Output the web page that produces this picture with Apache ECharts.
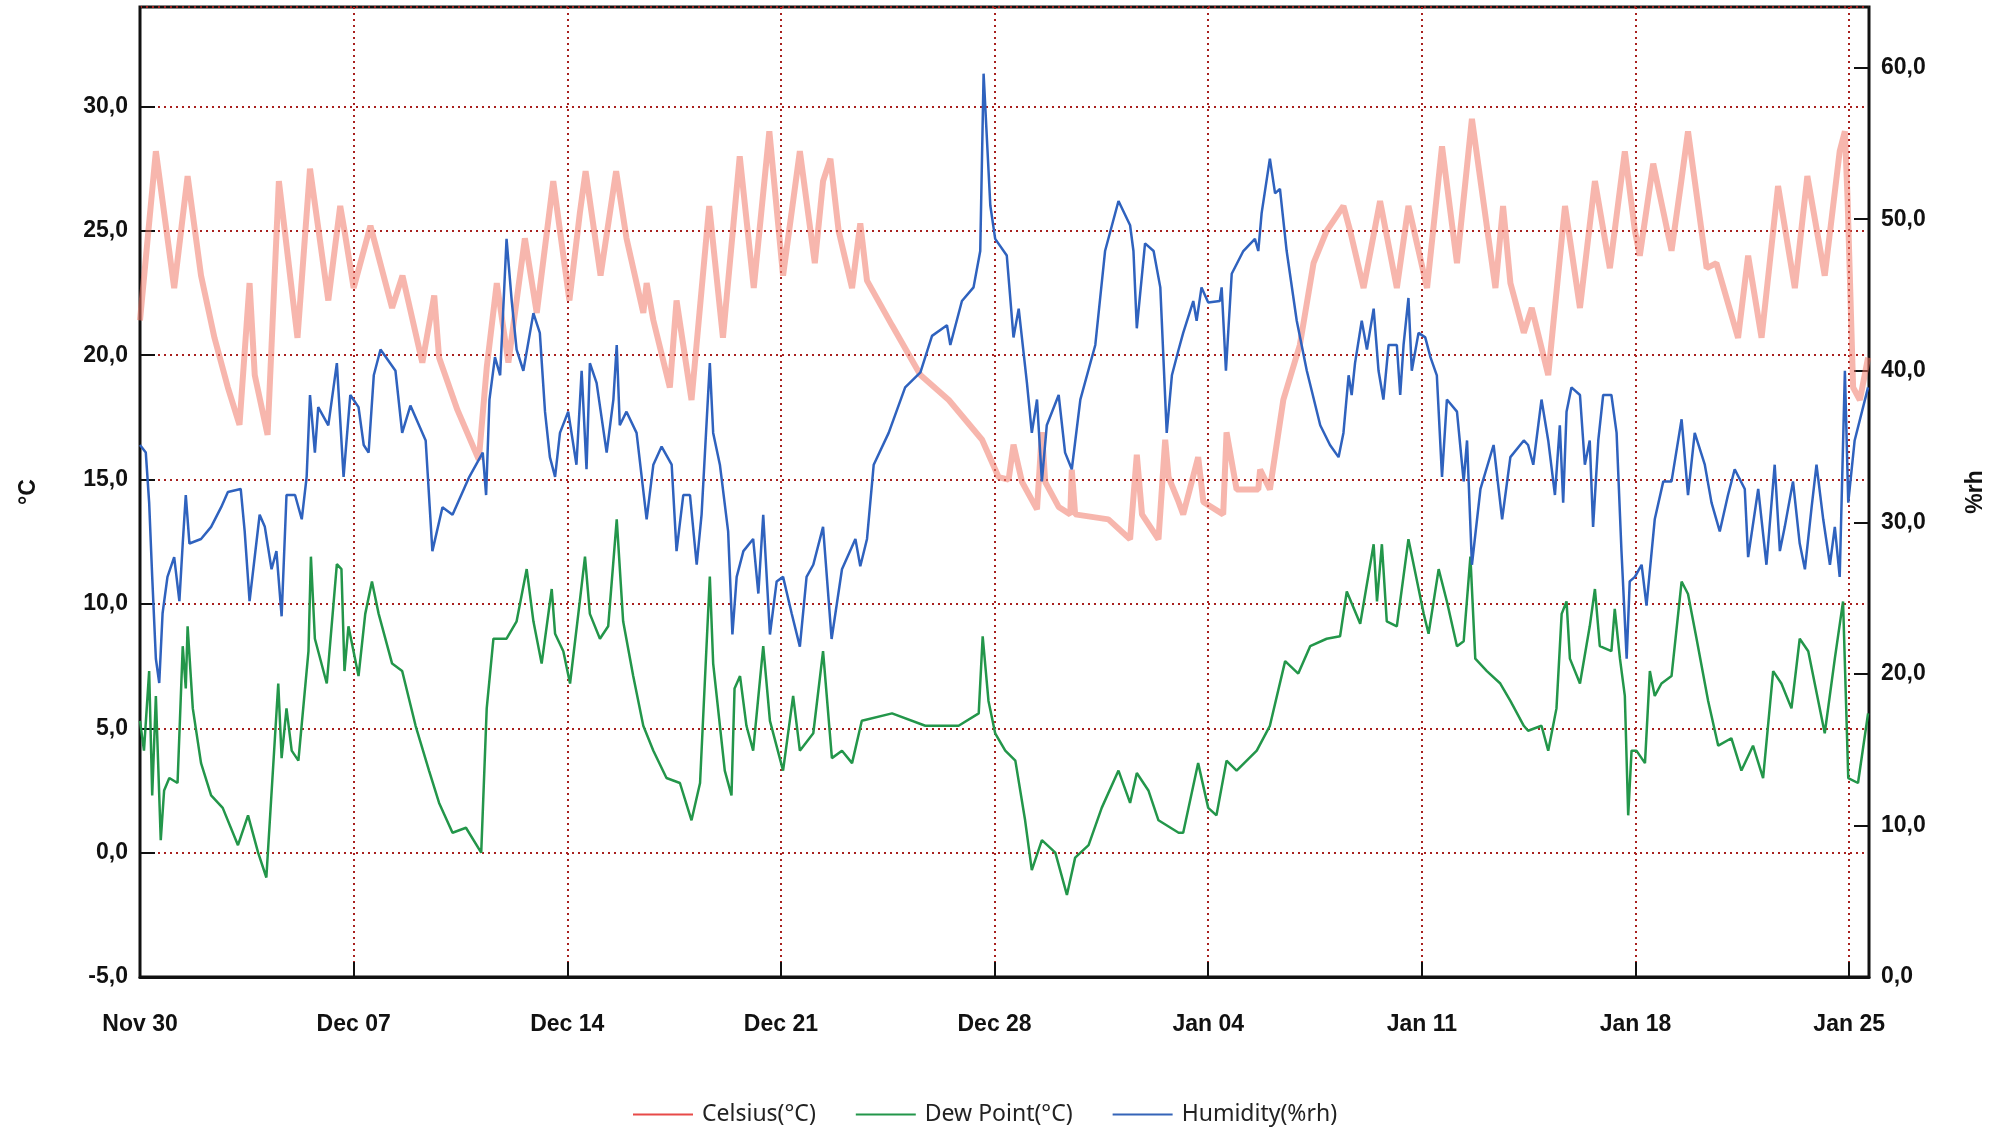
<!DOCTYPE html>
<html>
<head>
<meta charset="utf-8">
<title>Celsius / Dew Point / Humidity</title>
<script src="https://cdn.jsdelivr.net/npm/echarts@6/dist/echarts.min.js"></script>
<style>
  html, body { margin: 0; padding: 0; background: #fff; }
  #chart { width: 2011px; height: 1133px; }
</style>
</head>
<body>
<div id="chart"></div>
<script>
// x = days since Nov 30 00:00
const tickLabels = ['Nov 30', 'Dec 07', 'Dec 14', 'Dec 21', 'Dec 28', 'Jan 04', 'Jan 11', 'Jan 18', 'Jan 25'];

// Celsius(°C)  [day, value]
const celsius = [
  [0,21.4],[0.52,28.2],[1.12,22.7],[1.56,27.2],[2.0,23.2],[2.44,20.7],[2.88,18.7],[3.26,17.2],[3.59,22.9],[3.76,19.2],
  [4.18,16.8],[4.55,27.0],[5.16,20.7],[5.57,27.5],[6.17,22.2],[6.56,26.0],[6.7,25.0],[7.0,22.7],[7.55,25.2],[8.26,21.9],
  [8.6,23.2],[9.25,19.7],[9.64,22.4],[9.8,19.9],[10.4,17.8],[11.1,15.8],[11.36,19.5],[11.69,22.9],[12.07,19.7],[12.61,24.7],
  [13.0,21.7],[13.54,27.0],[14.07,22.2],[14.41,25.7],[14.6,27.4],[15.09,23.2],[15.6,27.4],[15.94,24.7],[16.49,21.7],[16.6,22.9],
  [16.82,21.4],[17.36,18.7],[17.58,22.2],[18.07,18.2],[18.65,26.0],[19.1,20.7],[19.65,28.0],[20.11,22.7],[20.62,29.0],[21.07,23.2],
  [21.62,28.2],[22.11,23.7],[22.38,27.0],[22.62,27.9],[22.89,25.0],[23.33,22.7],[23.6,25.3],[23.82,23.0],[24.64,21.2],[25.57,19.2],
  [26.5,18.2],[27.59,16.6],[28.13,15.1],[28.46,15.0],[28.62,16.4],[28.9,14.9],[29.39,13.8],[29.55,16.9],[29.66,14.9],[30.1,13.9],
  [30.48,13.6],[30.53,15.4],[30.64,13.6],[31.73,13.4],[32.44,12.6],[32.66,16.0],[32.83,13.6],[33.37,12.6],[33.59,16.6],[33.7,15.1],
  [34.03,14.1],[34.18,13.6],[34.67,15.9],[34.84,14.1],[35.49,13.6],[35.6,16.9],[35.93,14.6],[36.64,14.6],[36.7,15.4],[37.02,14.6],
  [37.46,18.2],[38.0,20.4],[38.45,23.7],[38.88,25.0],[39.43,26.0],[39.65,25.0],[40.09,22.7],[40.63,26.2],[41.18,22.7],[41.56,26.0],
  [42.17,22.7],[42.66,28.4],[43.15,23.7],[43.64,29.5],[44.41,22.7],[44.66,26.0],[44.9,22.9],[45.34,20.9],[45.6,21.9],[46.14,19.2],
  [46.69,26.0],[47.18,21.9],[47.67,27.0],[48.16,23.5],[48.65,28.2],[48.98,25.0],[49.14,24.0],[49.58,27.7],[50.18,24.2],[50.5,27.0],
  [50.72,29.0],[51.33,23.5],[51.65,23.7],[52.36,20.7],[52.69,24.0],[53.13,20.7],[53.67,26.8],[54.22,22.7],[54.63,27.2],[55.2,23.2],
  [55.69,28.2],[55.86,29.0],[55.95,26.2],[56.13,18.7],[56.35,18.2],[56.62,19.9]
];

// Dew Point(°C)  [day, value]
const dewPoint = [
  [0,5.3],[0.13,4.1],[0.3,7.3],[0.4,2.3],[0.52,6.3],[0.68,0.5],[0.79,2.5],[0.96,3.0],[1.23,2.8],[1.4,8.3],
  [1.5,6.6],[1.56,9.1],[1.73,5.8],[2.0,3.6],[2.33,2.3],[2.71,1.8],[3.21,0.3],[3.54,1.5],[3.87,0.0],[4.14,-1.0],
  [4.53,6.8],[4.64,3.8],[4.8,5.8],[4.97,4.1],[5.19,3.7],[5.52,8.1],[5.6,11.9],[5.73,8.6],[6.12,6.8],[6.45,11.6],
  [6.6,11.4],[6.7,7.3],[6.83,9.1],[7.16,7.1],[7.38,9.6],[7.6,10.9],[7.82,9.6],[8.26,7.6],[8.59,7.3],[9.03,5.1],
  [9.47,3.3],[9.8,2.0],[10.24,0.8],[10.68,1.0],[11.18,0.0],[11.36,5.8],[11.58,8.6],[12.01,8.6],[12.34,9.3],[12.67,11.4],
  [12.89,9.3],[13.16,7.6],[13.49,10.6],[13.6,8.8],[13.87,8.1],[14.09,6.8],[14.41,10.1],[14.58,11.9],[14.74,9.6],[15.07,8.6],
  [15.34,9.1],[15.62,13.4],[15.83,9.3],[16.16,7.1],[16.49,5.1],[16.82,4.1],[17.25,3.0],[17.69,2.8],[18.07,1.3],[18.35,2.8],
  [18.67,11.1],[18.78,7.6],[19.16,3.3],[19.38,2.3],[19.48,6.6],[19.66,7.1],[19.87,5.1],[20.09,4.1],[20.42,8.3],[20.64,5.3],
  [21.07,3.3],[21.4,6.3],[21.62,4.1],[22.06,4.8],[22.38,8.1],[22.67,3.8],[23.0,4.1],[23.33,3.6],[23.65,5.3],[24.64,5.6],
  [25.73,5.1],[26.82,5.1],[27.48,5.6],[27.61,8.7],[27.8,6.1],[28.02,4.8],[28.35,4.1],[28.68,3.7],[29.0,1.3],[29.22,-0.7],
  [29.55,0.5],[29.99,0.0],[30.37,-1.7],[30.64,-0.2],[31.08,0.3],[31.51,1.8],[32.06,3.3],[32.44,2.0],[32.66,3.2],[33.04,2.5],
  [33.37,1.3],[34.03,0.8],[34.18,0.8],[34.67,3.6],[35.0,1.8],[35.27,1.5],[35.6,3.7],[35.93,3.3],[36.59,4.1],[37.02,5.1],
  [37.52,7.7],[37.95,7.2],[38.34,8.3],[38.88,8.6],[39.32,8.7],[39.54,10.5],[39.98,9.2],[40.42,12.4],[40.53,10.1],[40.69,12.4],
  [40.85,9.3],[41.18,9.1],[41.56,12.6],[42.06,9.6],[42.22,8.8],[42.55,11.4],[42.82,10.1],[43.15,8.3],[43.37,8.5],[43.59,11.9],
  [43.75,7.8],[44.13,7.3],[44.57,6.8],[44.9,6.1],[45.34,5.1],[45.48,4.9],[45.92,5.1],[46.14,4.1],[46.41,5.8],[46.58,9.6],
  [46.74,10.1],[46.85,7.8],[47.18,6.8],[47.5,9.1],[47.67,10.6],[47.83,8.3],[48.21,8.1],[48.32,9.8],[48.49,7.8],[48.65,6.3],
  [48.76,1.5],[48.87,4.1],[49.03,4.1],[49.31,3.6],[49.47,7.3],[49.63,6.3],[49.85,6.8],[50.18,7.1],[50.51,10.9],[50.72,10.4],
  [51.0,8.6],[51.38,6.1],[51.71,4.3],[52.14,4.6],[52.47,3.3],[52.85,4.3],[53.18,3.0],[53.51,7.3],[53.78,6.8],[54.11,5.8],
  [54.38,8.6],[54.66,8.1],[55.2,4.8],[55.53,7.8],[55.8,10.1],[55.97,3.0],[56.29,2.8],[56.62,5.6]
];

// Humidity(%rh)  [day, value]
const humidity = [
  [0,35.1],[0.19,34.6],[0.3,31.3],[0.4,26.4],[0.52,21.0],[0.63,19.4],[0.74,24.0],[0.9,26.4],[1.12,27.7],[1.29,24.8],
  [1.4,28.6],[1.5,31.8],[1.62,28.6],[2.0,28.9],[2.33,29.7],[2.66,31.0],[2.88,32.0],[3.3,32.2],[3.43,29.4],[3.59,24.8],
  [3.92,30.5],[4.09,29.7],[4.31,26.9],[4.47,28.1],[4.64,23.8],[4.8,31.8],[5.08,31.8],[5.3,30.2],[5.46,33.0],[5.57,38.4],
  [5.73,34.6],[5.84,37.6],[6.17,36.4],[6.45,40.5],[6.67,33.0],[6.89,38.4],[7.16,37.6],[7.33,35.1],[7.49,34.6],[7.66,39.7],
  [7.88,41.4],[8.37,40.0],[8.59,35.9],[8.86,37.7],[9.36,35.4],[9.58,28.1],[9.91,31.0],[10.24,30.5],[10.79,33.0],[11.23,34.6],
  [11.34,31.8],[11.45,38.1],[11.63,40.9],[11.8,39.7],[12.01,48.7],[12.18,44.6],[12.34,41.4],[12.56,40.0],[12.89,43.8],[13.1,42.5],
  [13.27,37.3],[13.43,34.3],[13.6,33.0],[13.76,35.9],[14.03,37.3],[14.3,33.8],[14.47,40.0],[14.63,33.5],[14.74,40.5],[14.96,39.2],
  [15.29,34.6],[15.51,38.1],[15.62,41.7],[15.72,36.4],[15.94,37.3],[16.27,35.9],[16.6,30.2],[16.82,33.8],[17.09,35.0],[17.42,33.8],
  [17.58,28.1],[17.8,31.8],[18.02,31.8],[18.24,27.2],[18.4,30.5],[18.67,40.5],[18.78,35.9],[19.0,33.8],[19.27,29.4],[19.41,22.6],
  [19.55,26.4],[19.77,28.1],[20.09,28.9],[20.26,25.3],[20.42,30.5],[20.64,22.6],[20.86,26.1],[21.07,26.4],[21.35,24.0],[21.62,21.8],
  [21.84,26.4],[22.06,27.2],[22.38,29.7],[22.66,22.3],[23.0,26.9],[23.44,28.9],[23.6,27.1],[23.82,28.9],[24.04,33.8],[24.53,35.9],
  [25.07,38.9],[25.57,39.9],[25.95,42.3],[26.44,43.0],[26.55,41.7],[26.93,44.6],[27.31,45.5],[27.53,47.9],[27.64,59.6],[27.86,50.9],
  [28.02,48.7],[28.4,47.6],[28.62,42.2],[28.79,44.1],[29.06,39.2],[29.22,35.9],[29.39,38.1],[29.55,32.7],[29.71,36.4],[30.1,38.4],
  [30.31,34.6],[30.53,33.5],[30.81,38.1],[31.3,41.7],[31.62,47.9],[32.06,51.2],[32.44,49.6],[32.55,47.9],[32.66,42.8],[32.93,48.4],
  [33.21,47.9],[33.43,45.5],[33.64,35.9],[33.81,39.7],[34.03,41.4],[34.18,42.5],[34.51,44.6],[34.62,43.3],[34.78,45.5],[35.0,44.5],
  [35.38,44.6],[35.44,45.5],[35.58,40.0],[35.77,46.4],[36.15,47.9],[36.53,48.7],[36.64,47.9],[36.75,50.4],[37.02,54.0],[37.19,51.7],
  [37.35,52.0],[37.57,47.9],[37.9,43.3],[38.23,40.0],[38.67,36.4],[38.99,35.1],[39.27,34.3],[39.43,35.9],[39.6,39.7],[39.7,38.4],
  [39.81,40.5],[40.03,43.3],[40.2,41.4],[40.42,44.1],[40.58,40.0],[40.74,38.1],[40.91,41.7],[41.18,41.7],[41.29,38.4],[41.4,41.7],
  [41.56,44.8],[41.67,40.0],[41.89,42.5],[42.11,42.2],[42.28,40.9],[42.49,39.7],[42.66,33.0],[42.82,38.1],[43.15,37.3],[43.37,32.7],
  [43.48,35.4],[43.64,27.2],[43.92,32.2],[44.35,35.1],[44.63,30.2],[44.9,34.3],[45.34,35.4],[45.48,35.1],[45.65,33.8],[45.92,38.1],
  [46.14,35.4],[46.36,31.8],[46.52,36.4],[46.63,31.3],[46.74,37.3],[46.9,38.9],[47.18,38.4],[47.34,33.8],[47.5,35.4],[47.61,29.7],
  [47.78,35.4],[47.94,38.4],[48.21,38.4],[48.38,35.9],[48.54,28.1],[48.71,21.0],[48.81,26.1],[48.98,26.4],[49.2,27.2],[49.36,24.5],
  [49.63,30.2],[49.91,32.7],[50.18,32.7],[50.51,36.8],[50.72,31.8],[50.94,35.9],[51.27,33.8],[51.49,31.3],[51.76,29.4],[52.03,31.8],
  [52.25,33.5],[52.58,32.2],[52.69,27.7],[53.02,32.2],[53.29,27.2],[53.56,33.8],[53.73,28.1],[53.89,29.7],[54.16,32.7],[54.38,28.6],
  [54.55,26.9],[54.77,31.0],[54.93,33.8],[55.15,30.2],[55.37,27.2],[55.53,29.7],[55.69,26.4],[55.86,40.0],[55.97,31.3],[56.18,35.4],
  [56.62,38.9]
];

const labelFont = { fontFamily: 'Liberation Sans', fontWeight: 'bold', fontSize: 23, color: '#111' };
const gridDots = { color: '#a8201e', width: 2, type: [2, 4] };
const comma = v => v.toFixed(1).replace('.', ',');

const chart = echarts.init(document.getElementById('chart'));
chart.setOption({
  animation: false,
  backgroundColor: '#ffffff',
  grid: {
    left: 140, right: 142, top: 7, bottom: 156,
    show: true, borderColor: '#111', borderWidth: 3, backgroundColor: '#ffffff'
  },
  legend: {
    left: 628, top: 1098,
    itemWidth: 60, itemHeight: 2, itemGap: 40, icon: 'rect',
    textStyle: { fontFamily: 'Noto Sans', fontSize: 23, color: '#222', padding: [0, 0, 0, 4] },
    data: [
      { name: 'Celsius(°C)', itemStyle: { color: '#e84a48' } },
      { name: 'Dew Point(°C)', itemStyle: { color: '#23964a' } },
      { name: 'Humidity(%rh)', itemStyle: { color: '#3564b8' } }
    ]
  },
  xAxis: {
    type: 'value', min: 0, max: 56.65, interval: 7,
    axisLine: { onZero: false, lineStyle: { color: '#111', width: 3 } },
    axisTick: { inside: true, length: 15, lineStyle: { color: '#111', width: 2 } },
    axisLabel: Object.assign({ margin: 36, showMaxLabel: false, formatter: v => tickLabels[Math.round(v / 7)] || '' }, labelFont),
    splitLine: { show: true, lineStyle: gridDots }
  },
  yAxis: [
    {
      type: 'value', min: -5, max: 34, interval: 5, position: 'left',
      name: '°C', nameLocation: 'middle', nameRotate: 90, nameGap: 100,
      nameTextStyle: labelFont,
      axisLine: { show: true, lineStyle: { color: '#111', width: 2 } },
      axisTick: { show: true, inside: true, length: 15, lineStyle: { color: '#111', width: 2 } },
      axisLabel: Object.assign({ margin: 12, showMaxLabel: false, formatter: comma }, labelFont),
      splitLine: { show: true, lineStyle: gridDots }
    },
    {
      type: 'value', min: 0, max: 64, interval: 10, position: 'right',
      name: '%rh', nameLocation: 'middle', nameRotate: 90, nameGap: 95,
      nameTextStyle: labelFont,
      axisLine: { show: true, lineStyle: { color: '#111', width: 2 } },
      axisTick: { show: true, inside: true, length: 15, lineStyle: { color: '#111', width: 2 } },
      axisLabel: Object.assign({ margin: 12, showMaxLabel: false, formatter: comma }, labelFont),
      splitLine: { show: false }
    }
  ],
  series: [
    {
      name: 'Celsius(°C)', type: 'line', yAxisIndex: 0, data: celsius,
      showSymbol: false, color: '#e84a48',
      lineStyle: { color: '#f07a6a', width: 6, opacity: 0.55 }
    },
    {
      name: 'Dew Point(°C)', type: 'line', yAxisIndex: 0, data: dewPoint,
      showSymbol: false, color: '#23964a',
      lineStyle: { color: '#23964a', width: 2.5 }
    },
    {
      name: 'Humidity(%rh)', type: 'line', yAxisIndex: 1, data: humidity,
      showSymbol: false, color: '#3564b8',
      lineStyle: { color: '#2f62be', width: 2.5 }
    }
  ]
});
</script>
</body>
</html>
